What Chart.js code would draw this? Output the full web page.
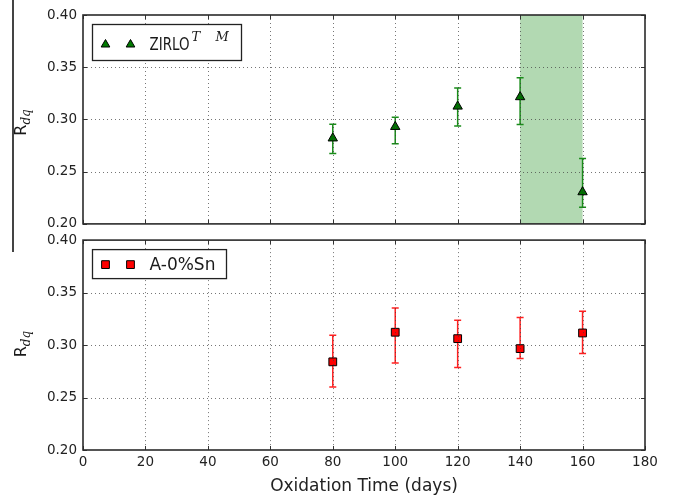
<!DOCTYPE html>
<html><head><meta charset="utf-8">
<script src="https://cdn.jsdelivr.net/npm/chart.js@4/dist/chart.umd.min.js"></script>
<style>
html,body{margin:0;padding:0;background:#fff;}
#wrap{position:relative;width:673px;height:497px;overflow:hidden;background:#fff;}
#c1{position:absolute;left:0;top:0;}
#c2{position:absolute;left:0;top:226px;}
#edge{position:absolute;left:12px;top:0;width:1.5px;height:252px;background:#444;}
</style></head><body>
<div id="wrap">
<canvas id="c1" width="673" height="238"></canvas>
<canvas id="c2" width="673" height="271"></canvas>
<div id="edge"></div>
</div>
<script>
// ---- data ----
const days = [80, 100, 120, 140, 160];
const zirloValues = [0.2820, 0.2930, 0.3125, 0.3215, 0.2305];
const zirloLow    = [0.2675, 0.2768, 0.2937, 0.2952, 0.2160];
const zirloHigh   = [0.2955, 0.3022, 0.3300, 0.3400, 0.2625];
const snValues = [0.2840, 0.3122, 0.3061, 0.2966, 0.3115];
const snLow    = [0.2600, 0.2828, 0.2786, 0.2873, 0.2920];
const snHigh   = [0.3093, 0.3354, 0.3237, 0.3262, 0.3323];
const shadeRange = [140, 160];
const xTickValues = [0, 20, 40, 60, 80, 100, 120, 140, 160, 180];
const yTickValues = [0.20, 0.25, 0.30, 0.35, 0.40];
const xTitle = 'Oxidation Time (days)';
const zirloLabel = 'ZIRLO';
const zirloSup = ['T', 'M'];
const snLabel = 'A-0%Sn';

const SANS = "'DejaVu Sans', sans-serif";
const SERIF = "'DejaVu Serif', serif";

function drawMarker(ctx, style, x, y, r, fill) {
  ctx.save();
  ctx.fillStyle = fill; ctx.strokeStyle = '#000'; ctx.lineWidth = 1; ctx.setLineDash([]);
  ctx.beginPath();
  if (style === 'triangle') {
    ctx.moveTo(x, y - r);
    ctx.lineTo(x + r * 0.866, y + r * 0.5);
    ctx.lineTo(x - r * 0.866, y + r * 0.5);
    ctx.closePath();
  } else {
    const s = r * Math.SQRT1_2;
    ctx.rect(x - s, y - s, 2 * s, 2 * s);
  }
  ctx.fill(); ctx.stroke();
  ctx.restore();
}

const decor = {
  id: 'decor',
  beforeDatasetsDraw(chart, args, o) {
    const {ctx, chartArea: a, scales: {x, y}} = chart;
    ctx.save();
    if (o.shade) {
      const x0 = x.getPixelForValue(o.shade[0]), x1 = x.getPixelForValue(o.shade[1]);
      ctx.fillStyle = 'rgba(0,128,0,0.3)';
      ctx.fillRect(x0, a.top, x1 - x0, a.bottom - a.top);
    }
    ctx.strokeStyle = o.errColor; ctx.lineWidth = 1.5;
    o.xs.forEach((xv, i) => {
      const px = x.getPixelForValue(xv);
      const lo = y.getPixelForValue(o.low[i]), hi = y.getPixelForValue(o.high[i]);
      ctx.beginPath();
      ctx.moveTo(px, lo); ctx.lineTo(px, hi);
      ctx.moveTo(px - 3.5, lo); ctx.lineTo(px + 3.5, lo);
      ctx.moveTo(px - 3.5, hi); ctx.lineTo(px + 3.5, hi);
      ctx.stroke();
    });
    ctx.restore();
  },
  afterDatasetsDraw(chart, args, o) {
    const {ctx, chartArea: a, scales: {x, y}} = chart;
    ctx.save();
    // grid (drawn above data like old matplotlib)
    ctx.strokeStyle = 'rgba(60,60,60,0.7)'; ctx.lineWidth = 1; ctx.setLineDash([1, 3]);
    xTickValues.forEach(v => {
      const px = Math.round(x.getPixelForValue(v)) + 0.5;
      if (px <= a.left + 1 || px >= a.right - 1) return;
      ctx.beginPath(); ctx.moveTo(px, a.top); ctx.lineTo(px, a.bottom); ctx.stroke();
    });
    yTickValues.forEach(v => {
      const py = Math.round(y.getPixelForValue(v)) + 0.5;
      if (py <= a.top + 1 || py >= a.bottom - 1) return;
      ctx.beginPath(); ctx.moveTo(a.left, py); ctx.lineTo(a.right, py); ctx.stroke();
    });
    // inside tick marks
    ctx.setLineDash([]); ctx.strokeStyle = '#333'; ctx.lineWidth = 1;
    xTickValues.forEach(v => {
      const px = Math.round(x.getPixelForValue(v)) + 0.5;
      ctx.beginPath();
      ctx.moveTo(px, a.bottom); ctx.lineTo(px, a.bottom - 4);
      ctx.moveTo(px, a.top); ctx.lineTo(px, a.top + 4);
      ctx.stroke();
    });
    yTickValues.forEach(v => {
      const py = Math.round(y.getPixelForValue(v)) + 0.5;
      ctx.beginPath();
      ctx.moveTo(a.left, py); ctx.lineTo(a.left + 4, py);
      ctx.moveTo(a.right, py); ctx.lineTo(a.right - 4, py);
      ctx.stroke();
    });
    // frame
    ctx.strokeStyle = '#2b2b2b'; ctx.lineWidth = 1.6;
    ctx.strokeRect(a.left, a.top, a.right - a.left, a.bottom - a.top);
    // legend
    const lg = o.legend;
    const bx = a.left + 9.5, by = a.top + 9.5;
    ctx.fillStyle = '#fff'; ctx.fillRect(bx, by, lg.w, lg.h);
    ctx.strokeStyle = '#222'; ctx.lineWidth = 1.3; ctx.strokeRect(bx, by, lg.w, lg.h);
    const cy = by + lg.h / 2 + lg.dy;
    [13, 38].forEach(mx => drawMarker(ctx, lg.style, bx + mx, cy, lg.r, lg.fill));
    ctx.fillStyle = '#1a1a1a';
    ctx.font = '17px ' + SANS; ctx.textBaseline = 'middle'; ctx.textAlign = 'left';
    ctx.fillText(lg.text, bx + 57, cy + 1, lg.tw);
    if (lg.sup) {
      ctx.font = 'italic 13px ' + SERIF;
      ctx.fillText(lg.sup[0], bx + 99, cy - 7);
      ctx.fillText(lg.sup[1], bx + 123, cy - 7);
    }
    // y title R_dq
    ctx.save();
    ctx.translate(26, (a.top + a.bottom) / 2 + o.titleDy);
    ctx.rotate(-Math.PI / 2);
    ctx.textBaseline = 'alphabetic';
    ctx.font = '16px ' + SANS;
    const wR = ctx.measureText('R').width;
    ctx.font = 'italic 12px ' + SERIF;
    const wS = ctx.measureText('dq').width;
    const start = -(wR + wS) / 2;
    ctx.font = '16px ' + SANS; ctx.fillStyle = '#1a1a1a';
    ctx.fillText('R', start, 0);
    ctx.font = 'italic 12px ' + SERIF;
    ctx.fillText('dq', start + wR, 4);
    ctx.restore();
    ctx.restore();
  }
};

function yScale() {
  return {
    type: 'linear', min: 0.2, max: 0.4,
    afterBuildTicks: s => { s.ticks = yTickValues.map(v => ({value: v})); },
    afterFit: s => { s.width = 83; },
    grid: {display: false, drawTicks: false},
    border: {display: false},
    ticks: {font: {family: SANS, size: 13.5}, color: '#222', padding: 6,
            callback: v => v.toFixed(2)}
  };
}

new Chart(document.getElementById('c1'), {
  type: 'scatter',
  data: {datasets: [{
    data: days.map((d, i) => ({x: d, y: zirloValues[i]})),
    pointStyle: 'triangle', pointRadius: 5.4, backgroundColor: '#006f00',
    borderColor: '#000', borderWidth: 1
  }]},
  options: {
    responsive: false, animation: false,
    layout: {padding: {left: 0, right: 28, top: 15, bottom: 0}},
    scales: {
      x: {type: 'linear', min: 0, max: 180,
          afterBuildTicks: s => { s.ticks = xTickValues.map(v => ({value: v})); },
          afterFit: s => { s.height = 0; },
          grid: {display: false, drawTicks: false}, border: {display: false},
          ticks: {display: false}},
      y: yScale()
    },
    plugins: {
      legend: {display: false}, tooltip: {enabled: false},
      decor: {shade: shadeRange, errColor: '#1a8c1a', xs: days, low: zirloLow, high: zirloHigh,
              titleDy: 3,
              legend: {w: 149, h: 36, dy: 2, style: 'triangle', r: 5, fill: '#007a00',
                       text: zirloLabel, tw: 40, sup: zirloSup}}
    }
  },
  plugins: [decor]
});

new Chart(document.getElementById('c2'), {
  type: 'scatter',
  data: {datasets: [{
    data: days.map((d, i) => ({x: d, y: snValues[i]})),
    pointStyle: 'rect', pointRadius: 5.5, backgroundColor: '#ff0000',
    borderColor: '#000', borderWidth: 1
  }]},
  options: {
    responsive: false, animation: false,
    layout: {padding: {left: 0, right: 28, top: 0, bottom: 0}},
    scales: {
      x: {type: 'linear', min: 0, max: 180,
          afterBuildTicks: s => { s.ticks = xTickValues.map(v => ({value: v})); },
          afterFit: s => { s.height = 47; },
          grid: {display: false, drawTicks: false}, border: {display: false},
          ticks: {font: {family: SANS, size: 13.5}, color: '#222', padding: 4, maxRotation: 0,
                  callback: v => String(v)},
          title: {display: true, text: xTitle, font: {family: SANS, size: 17}, color: '#222',
                  padding: {top: 0, bottom: 0}}},
      y: yScale()
    },
    plugins: {
      legend: {display: false}, tooltip: {enabled: false},
      decor: {shade: null, errColor: '#ff2020', xs: days, low: snLow, high: snHigh,
              titleDy: -1,
              legend: {w: 134, h: 29, dy: 0.5, style: 'rect', r: 5.5, fill: '#ff0000',
                       text: snLabel, tw: 68, sup: null}}
    }
  },
  plugins: [decor]
});
</script>
</body></html>
